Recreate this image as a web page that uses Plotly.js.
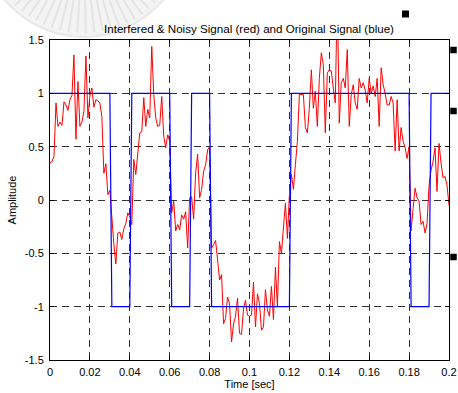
<!DOCTYPE html>
<html>
<head>
<meta charset="utf-8">
<script src="https://cdn.plot.ly/plotly-3.0.1.min.js"></script>
<style>
  html, body { margin: 0; padding: 0; background: #ffffff; }
  #chart { width: 458px; height: 393px; }
</style>
</head>
<body>
<div id="chart"></div>
<script>
// Interfered & noisy signal, sampled every 1 ms from t = 0 to 0.2 s
const noisySignal = [
  0.35, 0.36, 0.41, 0.91, 0.69, 0.73, 0.70, 0.92, 0.89, 0.84,
  0.94, 0.98, 1.36, 0.57, 1.11, 0.69, 0.73, 0.83, 1.35, 0.77,
  0.98, 1.05, 0.87, 0.94, 0.93, 0.91, 0.78, 0.25, 0.34, 0.05,
  0.09, -0.20, -0.41, -0.60, -0.31, -0.30, -0.37, -0.27, -0.22, -0.12,
  -0.16, -0.23, 0.38, 0.24, 0.43, 0.63, 0.64, 0.96, 0.69, 0.85,
  0.77, 1.44, 0.99, 0.77, 0.69, 0.70, 0.97, 0.60, 0.49, 0.61,
  0.55, -0.12, -0.01, -0.29, -0.23, -0.28, -0.14, -0.18, -0.11, -0.45,
  0.02, 0.03, -0.18, 0.25, 0.43, 0.02, 0.10, 0.27, 0.33, 0.47,
  0.50, -0.45, -0.42, -0.38, -0.56, -0.75, -0.70, -1.16, -1.11, -0.91,
  -0.97, -1.33, -1.16, -1.09, -0.92, -1.25, -1.26, -1.02, -0.94, -1.08,
  -1.09, -1.08, -0.77, -1.19, -0.88, -0.97, -1.22, -1.19, -0.84, -1.03,
  -1.09, -0.81, -1.12, -0.63, -1.00, -0.39, -0.50, -0.28, -0.03, -0.36,
  0.05, 0.24, 0.10, 0.33, 0.55, 0.99, 0.99, 0.99, 0.68, 0.63,
  0.86, 1.22, 0.86, 1.02, 0.69, 1.14, 1.38, 1.27, 0.63, 1.19,
  1.22, 1.21, 1.05, 0.91, 1.95, 0.72, 1.10, 1.14, 1.05, 1.41,
  0.69, 0.99, 1.08, 0.91, 0.85, 1.14, 1.05, 1.10, 1.03, 0.91,
  1.14, 1.00, 1.07, 0.97, 1.14, 0.69, 1.24, 1.08, 1.00, 0.89,
  0.89, 0.97, 0.91, 0.46, 0.94, 0.46, 0.68, 0.55, 0.49, 0.39,
  0.50, -0.29, -0.08, 0.11, 0.02, -0.01, -0.23, -0.20, -0.31, -0.22,
  0.14, 0.28, 0.36, 0.49, 0.08, 0.53, 0.35, 0.21, 0.22, 0.14,
  -0.05
];
const sampleStart = 0;
const samplePeriod = 0.001;

// Original square-wave signal: switching instants and levels
const originalTime  = [0, 0.030, 0.031, 0.040, 0.041, 0.060, 0.061, 0.070, 0.071,
                       0.080, 0.081, 0.120, 0.121, 0.180, 0.181, 0.190, 0.191, 0.200];
const originalLevel = [1, 1, -1, -1, 1, 1, -1, -1, 1,
                       1, -1, -1, 1, 1, -1, -1, 1, 1];

// Axis ticks
const timeTicks    = [0, 0.02, 0.04, 0.06, 0.08, 0.1, 0.12, 0.14, 0.16, 0.18, 0.2];
const timeTickText = ['0', '0.02', '0.04', '0.06', '0.08', '0.1', '0.12', '0.14', '0.16', '0.18', '0.2'];
const ampTicks     = [-1.5, -1, -0.5, 0, 0.5, 1, 1.5];
const ampTickText  = ['-1.5', '-1', '-0.5', '0', '0.5', '1', '1.5'];

const FONT = 'Liberation Sans, Arial, Helvetica, sans-serif';

// Plot-area geometry in pixels, used to place the page decorations
const W = 458, H = 393;
const M = { l: 50, r: 9, t: 40, b: 33 };
const pw = W - M.l - M.r, ph = H - M.t - M.b;
const px = x => (x - M.l) / pw;          // pixel -> paper x
const py = y => (H - M.b - y) / ph;      // pixel -> paper y

const traces = [
  {
    type: 'scatter', mode: 'lines',
    y: noisySignal, x0: sampleStart, dx: samplePeriod,
    line: { color: '#ff0000', width: 1 },
    hoverinfo: 'skip'
  },
  {
    type: 'scatter', mode: 'lines',
    x: originalTime, y: originalLevel,
    line: { color: '#0000ff', width: 1.2 },
    hoverinfo: 'skip'
  }
];

// small black marks in the right margin
function square(cx, cy, s) {
  return {
    type: 'rect', xref: 'paper', yref: 'paper', layer: 'above',
    x0: px(cx - s / 2), x1: px(cx + s / 2), y0: py(cy + s / 2), y1: py(cy - s / 2),
    fillcolor: '#000000', line: { width: 0 }
  };
}

// faint round seal behind the title, with a radial fan texture
const sealCx = 84, sealCy = -66, sealR = 103;
function ring(r, fill, edge, w) {
  return {
    type: 'circle', xref: 'paper', yref: 'paper', layer: 'below',
    x0: px(sealCx - r), x1: px(sealCx + r),
    y0: py(sealCy + r), y1: py(sealCy - r),
    fillcolor: fill, line: { color: edge, width: w }
  };
}
const shapes = [ring(sealR, '#f3f3f3', '#e8e8e8', 2), ring(sealR - 40, '#f6f6f6', '#ededed', 1)];
for (let deg = 14; deg <= 166; deg += 5) {
  const a = deg * Math.PI / 180;
  const r0 = sealR - 38, r1 = sealR - 4;
  shapes.push({
    type: 'line', xref: 'paper', yref: 'paper', layer: 'below',
    x0: px(sealCx + r0 * Math.cos(a)), y0: py(sealCy + r0 * Math.sin(a)),
    x1: px(sealCx + r1 * Math.cos(a)), y1: py(sealCy + r1 * Math.sin(a)),
    line: { color: '#e4e4e4', width: 2 }
  });
}
shapes.push(square(405.5, 14, 7), square(453.5, 50, 6.5),
            square(453.5, 111, 6.5), square(453.5, 257, 6.5));

const axisCommon = {
  showline: true, linecolor: '#000000', linewidth: 1, mirror: 'ticks',
  ticks: 'inside', ticklen: 4, tickwidth: 1, tickcolor: '#000000',
  showgrid: true, gridcolor: '#333333', gridwidth: 1, griddash: '7px,5px',
  zeroline: false,
  tickfont: { family: FONT, size: 11, color: '#000000' }
};

const layout = {
  width: W, height: H,
  margin: M,
  paper_bgcolor: 'rgba(0,0,0,0)',
  plot_bgcolor: 'rgba(0,0,0,0)',
  showlegend: false,
  title: {
    text: 'Interfered & Noisy Signal (red) and Original Signal (blue)',
    font: { family: FONT, size: 11.6, color: '#000000' },
    x: px(249), xref: 'paper', xanchor: 'center',
    y: 1 - 28.5 / H, yref: 'container', yanchor: 'middle'
  },
  xaxis: Object.assign({}, axisCommon, {
    range: [0, 0.2], tickmode: 'array', tickvals: timeTicks, ticktext: timeTickText,
    ticklabelstandoff: 2,
    title: { text: 'Time [sec]', font: { family: FONT, size: 11, color: '#000000' }, standoff: 2 }
  }),
  yaxis: Object.assign({}, axisCommon, {
    range: [-1.5, 1.5], tickmode: 'array', tickvals: ampTicks, ticktext: ampTickText,
    ticklabelstandoff: 3,
    title: { text: 'Amplitude', font: { family: FONT, size: 11, color: '#000000' }, standoff: 5 }
  }),
  shapes: shapes
};

Plotly.newPlot('chart', traces, layout, { staticPlot: true, displayModeBar: false });
</script>
</body>
</html>
